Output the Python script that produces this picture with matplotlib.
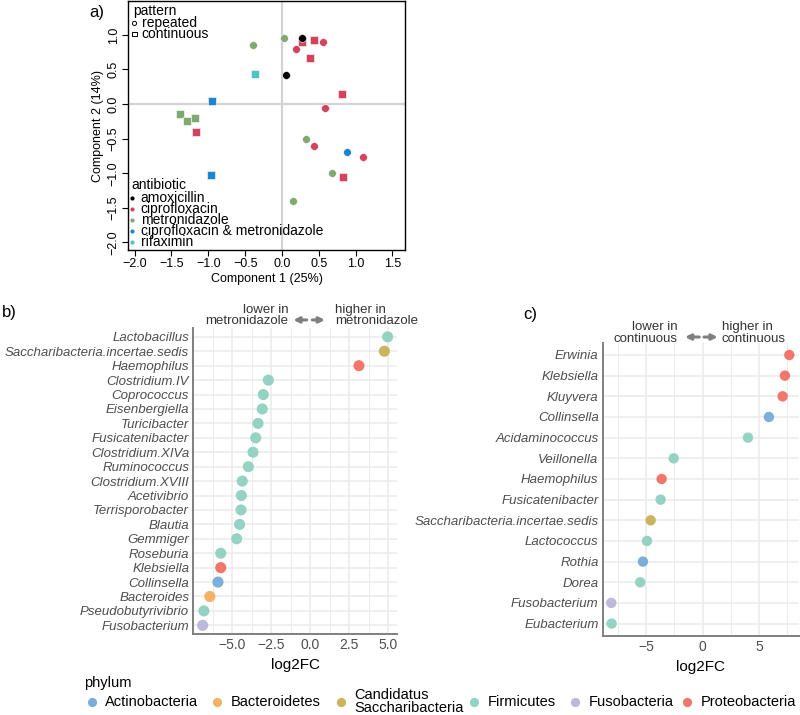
import numpy as np
import matplotlib.pyplot as plt
import matplotlib.transforms as mtransforms

plt.rcParams['font.family'] = ['Liberation Sans', 'DejaVu Sans']

# ---- panel a: ordination ----
pca_x = [-0.40, 0.03, 0.27, 0.27, 0.44, 0.56, 0.19, 0.38, -0.37, 0.06, 0.81, -0.95, 0.58,
         -1.38, -1.29, -1.18, -1.17, 0.33, 0.43, 0.88, 1.10, -0.96, 0.68, 0.83, 0.15]
pca_y = [0.85, 0.95, 0.89, 0.96, 0.93, 0.89, 0.79, 0.67, 0.43, 0.42, 0.15, 0.05, -0.05,
         -0.14, -0.24, -0.20, -0.40, -0.50, -0.61, -0.69, -0.76, -1.02, -0.99, -1.05, -1.40]
pca_abx = ['metronidazole', 'metronidazole', 'ciprofloxacin', 'amoxicillin', 'ciprofloxacin',
           'ciprofloxacin', 'ciprofloxacin', 'ciprofloxacin', 'rifaximin', 'amoxicillin',
           'ciprofloxacin', 'ciprofloxacin & metronidazole', 'ciprofloxacin',
           'metronidazole', 'metronidazole', 'metronidazole', 'ciprofloxacin', 'metronidazole',
           'ciprofloxacin', 'ciprofloxacin & metronidazole', 'ciprofloxacin',
           'ciprofloxacin & metronidazole', 'metronidazole', 'ciprofloxacin', 'metronidazole']
pca_pattern = ['repeated', 'repeated', 'continuous', 'repeated', 'continuous', 'repeated',
               'repeated', 'continuous', 'continuous', 'repeated', 'continuous', 'continuous',
               'repeated', 'continuous', 'continuous', 'continuous', 'continuous', 'repeated',
               'repeated', 'repeated', 'repeated', 'continuous', 'repeated', 'continuous',
               'repeated']

abx_names = ['amoxicillin', 'ciprofloxacin', 'metronidazole',
             'ciprofloxacin & metronidazole', 'rifaximin']
abx_colors = ['black', '#D3435C', '#7EAA72', '#1D86CF', '#4EC3C6']
pattern_names = ['repeated', 'continuous']
pattern_markers = ['o', 's']

# ---- panel b: metronidazole ----
metro_genus = ['Lactobacillus', 'Saccharibacteria.incertae.sedis', 'Haemophilus', 'Clostridium.IV',
               'Coprococcus', 'Eisenbergiella', 'Turicibacter', 'Fusicatenibacter',
               'Clostridium.XIVa', 'Ruminococcus', 'Clostridium.XVIII', 'Acetivibrio',
               'Terrisporobacter', 'Blautia', 'Gemmiger', 'Roseburia', 'Klebsiella',
               'Collinsella', 'Bacteroides', 'Pseudobutyrivibrio', 'Fusobacterium']
metro_lfc = [4.96, 4.75, 3.12, -2.69, -3.01, -3.08, -3.35, -3.50, -3.67, -3.97, -4.36, -4.42,
             -4.44, -4.53, -4.72, -5.74, -5.74, -5.92, -6.44, -6.82, -6.90]
metro_phylum = ['Firmicutes', 'Candidatus Saccharibacteria', 'Proteobacteria'] + ['Firmicutes'] * 13 + \
               ['Proteobacteria', 'Actinobacteria', 'Bacteroidetes', 'Firmicutes', 'Fusobacteria']

# ---- panel c: continuous vs repeated ----
cont_genus = ['Erwinia', 'Klebsiella', 'Kluyvera', 'Collinsella', 'Acidaminococcus', 'Veillonella',
              'Haemophilus', 'Fusicatenibacter', 'Saccharibacteria.incertae.sedis', 'Lactococcus',
              'Rothia', 'Dorea', 'Fusobacterium', 'Eubacterium']
cont_lfc = [7.69, 7.30, 7.10, 5.88, 4.02, -2.57, -3.64, -3.73, -4.61, -4.94, -5.30, -5.54,
            -8.11, -8.08]
cont_phylum = ['Proteobacteria', 'Proteobacteria', 'Proteobacteria', 'Actinobacteria', 'Firmicutes',
               'Firmicutes', 'Proteobacteria', 'Firmicutes', 'Candidatus Saccharibacteria',
               'Firmicutes', 'Actinobacteria', 'Firmicutes', 'Fusobacteria', 'Firmicutes']

phylum_names = ['Actinobacteria', 'Bacteroidetes', 'Candidatus Saccharibacteria', 'Firmicutes',
                'Fusobacteria', 'Proteobacteria']
phylum_labels = ['Actinobacteria', 'Bacteroidetes', 'Candidatus\nSaccharibacteria', 'Firmicutes',
                 'Fusobacteria', 'Proteobacteria']
phylum_colors = ['#7BAED8', '#F5B266', '#CBB55C', '#94D3C3', '#BDB9DA', '#F2776A']
phylum_col = dict(zip(phylum_names, phylum_colors))

W, H = 800, 715


def px_rect(left, top, right, bottom):
    return [left / W, 1 - bottom / H, (right - left) / W, (bottom - top) / H]


def minus(v, fmt):
    return (fmt % v).replace('-', '\u2212')


fig = plt.figure(figsize=(8, 7.15), dpi=100)

# overlay in pixel units, used for the panel letters and the phylum legend
ax_px = fig.add_axes([0, 0, 1, 1])
ax_px.set_xlim(0, W)
ax_px.set_ylim(H, 0)
ax_px.axis('off')

# ================= panel a =================
ax_a = fig.add_axes(px_rect(128, 1, 405, 250))
ax_a.axvline(0, color='#D3D3D3', lw=1.6, zorder=0)
ax_a.axhline(0, color='#D3D3D3', lw=1.6, zorder=0)
abx_col = dict(zip(abx_names, abx_colors))
pat_mk = dict(zip(pattern_names, pattern_markers))
for x, y, a, p in zip(pca_x, pca_y, pca_abx, pca_pattern):
    ax_a.scatter(x, y, s=32 if p == 'repeated' else 27, marker=pat_mk[p], color=abx_col[a],
                 edgecolors='white', linewidths=0.4, zorder=3)
ax_a.set_xlim(-2.09, 1.67)
ax_a.set_ylim(-2.11, 1.49)
xt = np.arange(-2.0, 1.51, 0.5)
yt = np.arange(-2.0, 1.01, 0.5)
ax_a.set_xticks(xt, [minus(v, '%.1f') for v in xt])
ax_a.set_yticks(yt, [minus(v, '%.1f') for v in yt], rotation=90, va='center')
ax_a.tick_params(length=4, width=0.8, pad=2, labelsize=9)
ax_a.set_xlabel('Component 1 (25%)', fontsize=9, labelpad=2)
ax_a.set_ylabel('Component 2 (14%)', fontsize=9, labelpad=3)
for s in ax_a.spines.values():
    s.set_linewidth(1.0)

# R style legends inside the box
ax_a.text(0.018, 0.960, 'pattern', transform=ax_a.transAxes, fontsize=10, va='center')
for i, (name, mk) in enumerate(zip(pattern_names, pattern_markers)):
    yy = 0.910 - i * 0.0435
    ax_a.scatter(0.0235, yy, s=9, marker=mk, facecolors='none', edgecolors='black',
                 linewidths=0.7, transform=ax_a.transAxes, clip_on=False)
    ax_a.text(0.049, yy, name, transform=ax_a.transAxes, fontsize=10, va='center')
ax_a.text(0.011, 0.261, 'antibiotic', transform=ax_a.transAxes, fontsize=10, va='center')
for i, (name, col) in enumerate(zip(abx_names, abx_colors)):
    yy = 0.210 - i * 0.0442
    ax_a.scatter(0.016, yy, s=9, marker='o', color=col, linewidths=0,
                 transform=ax_a.transAxes, clip_on=False)
    ax_a.text(0.046, yy, name, transform=ax_a.transAxes, fontsize=10, va='center')


# ================= panels b and c =================
def lollipop(ax, genus, lfc, phylum, xlim, major, minor, fmt, size, side_word, txt_x, arr_x, txt_y, arr_y):
    n = len(genus)
    ypos = np.arange(n)[::-1]
    ax.scatter(lfc, ypos, c=[phylum_col[p] for p in phylum], s=size, linewidths=0, zorder=3)
    ax.set_yticks(ypos, genus, style='italic', fontsize=9.5, color='#4D4D4D')
    ax.set_ylim(-0.6, n - 0.4)
    ax.set_xlim(*xlim)
    ax.set_xticks(major, [minus(v, fmt) for v in major])
    ax.set_xticks(minor, minor=True)
    ax.grid(True, which='major', color='#EBEBEB', lw=1.1, zorder=0)
    ax.grid(True, which='minor', axis='x', color='#EBEBEB', lw=0.7, zorder=0)
    ax.set_axisbelow(True)
    ax.tick_params(which='both', length=0, pad=3, labelsize=10, labelcolor='#4D4D4D')
    ax.tick_params(axis='y', labelsize=9.5, pad=3)
    for s in ['top', 'right']:
        ax.spines[s].set_visible(False)
    for s in ['left', 'bottom']:
        ax.spines[s].set_color('#7F7F7F')
        ax.spines[s].set_linewidth(1.4)
    ax.set_xlabel('log2FC', fontsize=11, labelpad=4)

    trans = mtransforms.blended_transform_factory(ax.transData, ax.transAxes)
    ax.text(txt_x[0], txt_y, 'lower in\n' + side_word, ha='right', va='center', transform=trans,
            fontsize=9.5, linespacing=0.95, color='#333333')
    ax.text(txt_x[1], txt_y, 'higher in\n' + side_word, ha='left', va='center', transform=trans,
            fontsize=9.5, linespacing=0.95, color='#333333')
    for a, b in [(arr_x[0], arr_x[1]), (arr_x[2], arr_x[3])]:
        ax.annotate('', xy=(b, arr_y), xytext=(a, arr_y), xycoords=trans, textcoords=trans,
                    arrowprops=dict(arrowstyle='-|>', color='#7F7F7F', lw=2.2, mutation_scale=8,
                                    shrinkA=0, shrinkB=0))


ax_b = fig.add_axes(px_rect(193.3, 328.2, 396.7, 634))
lollipop(ax_b, metro_genus, metro_lfc, metro_phylum, (-7.5, 5.54),
         [-5, -2.5, 0, 2.5, 5], [-6.25, -3.75, -1.25, 1.25, 3.75], '%.1f', 64,
         'metronidazole', (-1.41, 1.58), (-0.23, -1.09, 0.13, 0.94), 1.041, 1.027)

ax_c = fig.add_axes(px_rect(602.7, 342.6, 799, 636))
lollipop(ax_c, cont_genus, cont_lfc, cont_phylum, (-8.87, 8.55),
         [-5, 0, 5], [-7.5, -2.5, 2.5, 7.5], '%d', 56,
         'continuous', (-2.2, 1.7), (-0.3, -1.57, 0.12, 1.33), 1.033, 1.019)

# panel letters
ax_px.text(89, 12, 'a)', fontsize=12, va='center')
ax_px.text(2, 313, 'b)', fontsize=12, va='center')
ax_px.text(523, 315, 'c)', fontsize=12, va='center')

# phylum legend (ggplot style, one row under the panels)
key_x = [91.7, 217.3, 340.7, 474, 575, 687.3]
ax_px.text(84, 683, 'phylum', fontsize=10.5, va='center')
for kx, lab, col in zip(key_x, phylum_labels, phylum_colors):
    ax_px.scatter(kx, 701.7, s=44, color=col, linewidths=0)
    ax_px.text(kx + 13.5, 701.7, lab, fontsize=10.5, va='center', linespacing=0.92)

fig.savefig('out.png', dpi=100)
